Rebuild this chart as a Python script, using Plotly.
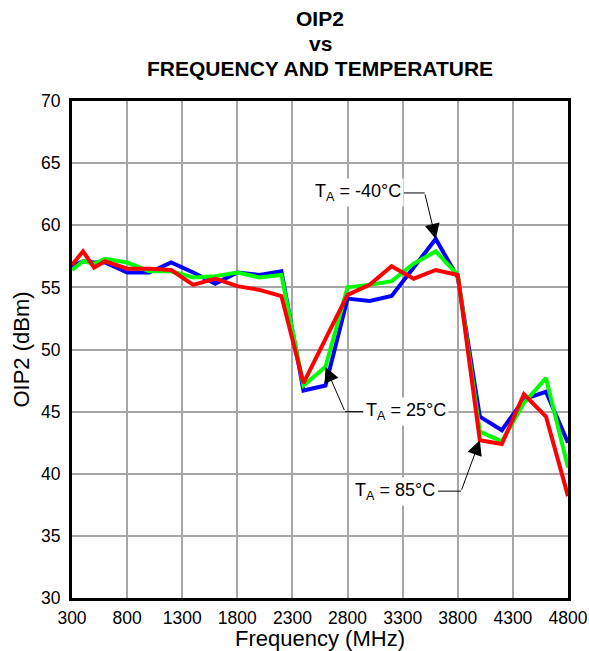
import plotly.graph_objects as go

# Frequency points (MHz)
freq = [300, 400, 500, 600, 800, 1000, 1200, 1400, 1600, 1800, 2000, 2200,
        2400, 2600, 2800, 3000, 3200, 3400, 3600, 3800, 4000, 4200, 4400, 4600, 4800]

# OIP2 (dBm) per temperature
oip2_m40 = [56.7, 57.1, 57.0, 57.0, 56.2, 56.2, 57.0, 56.2, 55.3, 56.2, 56.0, 56.3,
            46.7, 47.1, 54.1, 53.9, 54.3, 56.6, 58.9, 55.8, 44.6, 43.5, 46.0, 46.6, 42.5]
oip2_25 = [56.4, 57.1, 56.9, 57.3, 57.0, 56.3, 56.3, 55.8, 55.9, 56.2, 55.8, 56.0,
           47.1, 48.6, 55.0, 55.2, 55.5, 56.9, 57.9, 56.0, 43.4, 42.6, 45.7, 47.7, 40.5]
oip2_85 = [56.8, 57.9, 56.6, 57.1, 56.5, 56.5, 56.4, 55.2, 55.7, 55.1, 54.8, 54.3,
           47.3, 50.9, 54.4, 55.2, 56.7, 55.7, 56.4, 56.0, 42.7, 42.4, 46.4, 44.6, 38.2]

xticks = [300, 800, 1300, 1800, 2300, 2800, 3300, 3800, 4300, 4800]
title_lines = ["OIP2", "vs", "FREQUENCY AND TEMPERATURE"]

FAM = "Liberation Sans, Arial, sans-serif"
font = dict(family=FAM, size=18, color="black")

fig = go.Figure()
for y, c in [(oip2_m40, "#0000ff"), (oip2_25, "#00ff00"), (oip2_85, "#ff0000")]:
    fig.add_trace(go.Scatter(x=freq, y=y, mode="lines",
                             line=dict(color=c, width=4), showlegend=False))

# title, one line per annotation
for txt, shift in zip(title_lines, [83, 58, 33]):
    fig.add_annotation(x=0.5, y=1, xref="paper", yref="paper", yshift=shift,
                       text="<b>" + txt + "</b>", showarrow=False,
                       xanchor="center", yanchor="middle",
                       font=dict(family=FAM, size=21, color="black"))

# callouts: text, text x, elbow x, elbow y, anchor, tip
i40 = freq.index(3600)
i25 = freq.index(2600)
i85 = freq.index(4000)
callouts = [
    ("T<sub>A</sub> = -40°C", 3310, 3500, 62.6, "right", freq[i40], oip2_m40[i40]),
    ("T<sub>A</sub> = 25°C", 2940, 2777, 45.0, "left", freq[i25], oip2_25[i25]),
    ("T<sub>A</sub> = 85°C", 3620, 3830, 38.6, "right", freq[i85], oip2_85[i85]),
]
for txt, tx, ex, ey, anc, px, py in callouts:
    fig.add_shape(type="line", x0=tx, x1=ex, y0=ey, y1=ey,
                  line=dict(color="black", width=1))
    fig.add_annotation(x=tx, y=ey, text=txt, showarrow=False,
                       xanchor=anc, yanchor="middle", font=font,
                       bgcolor="white", borderpad=2)
    fig.add_annotation(x=px, y=py, ax=ex, ay=ey, axref="x", ayref="y",
                       text="", showarrow=True, arrowhead=2, arrowsize=3,
                       arrowwidth=1, arrowcolor="black", standoff=0)

fig.update_layout(
    width=589, height=651,
    margin=dict(l=72, r=21, t=101, b=53),
    plot_bgcolor="white", paper_bgcolor="white",
    font=font,
)
fig.update_xaxes(range=[300, 4800], tickvals=xticks, showgrid=True,
                 gridcolor="#a6a6a6", gridwidth=1.5, showline=True, mirror=True,
                 linecolor="black", linewidth=3, zeroline=False, automargin=False,
                 tickfont=dict(size=17.5), ticklabelstandoff=2,
                 title=dict(text="Frequency (MHz)", standoff=4), ticks="")
fig.update_yaxes(range=[30, 70], dtick=5, showgrid=True,
                 gridcolor="#a6a6a6", gridwidth=1.5, showline=True, mirror=True,
                 linecolor="black", linewidth=3, zeroline=False, automargin=False,
                 tickfont=dict(size=17.5), ticklabelstandoff=5,
                 title=dict(text="OIP2 (dBm)", standoff=6), ticks="")

# drop the page's default body margin so the figure sits at the window origin
fig.write_html("out.html", config={"displayModeBar": False},
               post_script="document.body.style.margin='0';")
